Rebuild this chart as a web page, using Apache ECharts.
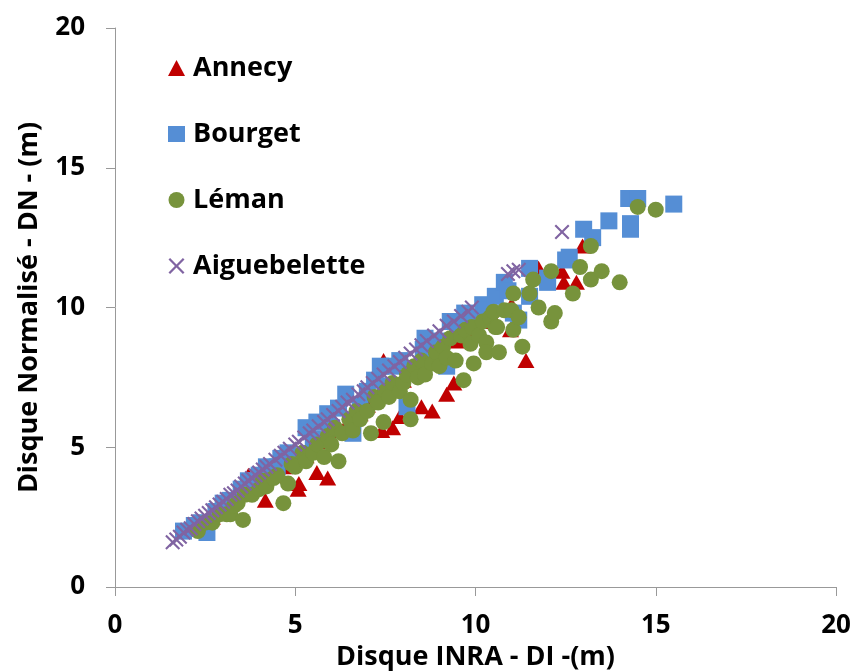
<!DOCTYPE html>
<html>
<head>
<meta charset="utf-8">
<script src="https://cdn.jsdelivr.net/npm/echarts@6/dist/echarts.min.js"></script>
<style>
  html, body { margin: 0; padding: 0; background: #fff; }
  #chart { width: 853px; height: 671px; }
</style>
</head>
<body>
<div id="chart"></div>
<script>
// tick values
let axisTicks = [0, 5, 10, 15, 20];

// [DI, DN] pairs
let annecy = [
  [2.3,2.2],[2.7,2.5],[3.0,2.8],[3.3,3.2],[3.6,3.4],[3.7,4.0],[3.9,3.6],[4.17,3.1],[4.4,4.0],[4.7,4.3],
  [5.08,3.5],[5.1,3.7],[5.3,4.7],[5.6,4.1],[5.9,3.9],[5.8,5.2],[6.2,5.6],[6.5,6.0],[6.8,6.2],[7.0,6.5],
  [7.4,5.6],[7.45,8.1],[7.5,7.0],[7.7,5.7],[7.9,6.1],[7.97,8.1],[8.0,7.4],[8.3,7.7],[8.5,6.45],[8.8,6.3],
  [8.7,8.0],[9.2,6.9],[9.4,7.3],[9.0,8.3],[9.5,8.8],[9.8,9.0],[10.2,9.5],[10.5,9.6],[10.97,9.2],[11.0,10.1],
  [11.4,8.1],[11.75,11.4],[12.0,11.0],[12.45,10.9],[12.8,10.9],[12.4,11.3],[12.97,12.2]
];
let bourget = [
  [1.9,2.0],[2.55,1.95],[2.2,2.2],[2.4,2.3],[2.8,2.7],[3.0,3.0],[3.2,3.1],[3.5,3.5],[3.7,3.8],[3.9,3.8],
  [4.0,4.0],[4.2,4.3],[4.5,4.3],[4.6,4.6],[4.8,4.8],[5.0,4.6],[5.3,5.7],[5.5,5.3],[5.6,5.9],[5.9,6.2],
  [6.0,5.7],[6.2,6.4],[6.4,6.9],[6.6,5.5],[6.8,6.5],[7.0,7.0],[7.2,7.4],[7.36,7.9],[7.5,7.2],[7.7,7.9],
  [7.9,8.1],[8.1,6.45],[8.3,7.8],[8.55,8.5],[8.6,8.9],[8.8,8.2],[9.2,7.9],[9.0,8.8],[9.3,9.5],[9.5,9.3],
  [9.7,9.8],[10.0,9.6],[10.2,10.1],[10.3,9.9],[10.55,10.4],[10.8,10.9],[10.9,10.6],[11.05,9.8],[11.2,9.55],[11.5,10.4],
  [11.5,11.4],[12.0,11.05],[12.0,10.9],[12.5,11.7],[12.6,11.8],[13.0,12.8],[13.25,12.5],[13.7,13.1],[14.25,13.9],[14.5,13.9],
  [14.3,13.0],[14.3,12.8],[15.5,13.7]
];
let leman = [
  [2.3,2.0],[2.5,2.3],[2.7,2.3],[2.9,2.6],[3.1,2.6],[3.2,2.6],[3.3,2.9],[3.55,2.4],[3.4,3.0],[3.6,3.3],
  [3.8,3.3],[4.0,3.5],[4.1,3.8],[4.2,3.6],[4.4,3.9],[4.67,3.0],[4.8,3.7],[4.5,4.0],[4.9,4.4],[5.0,4.3],
  [5.2,4.8],[5.3,4.5],[5.5,4.8],[5.6,5.1],[5.8,4.65],[5.9,5.4],[6.0,5.1],[6.1,5.7],[6.2,4.5],[6.3,5.5],
  [6.5,6.0],[6.6,5.6],[6.7,6.3],[6.8,6.0],[7.1,5.5],[7.0,6.3],[7.2,6.8],[7.3,6.6],[7.45,5.9],[7.5,7.0],
  [7.6,6.8],[7.7,7.3],[7.9,7.0],[8.2,6.0],[8.2,6.7],[8.0,7.3],[8.1,7.6],[8.3,7.9],[8.4,7.5],[8.5,8.1],
  [8.6,7.6],[8.8,8.0],[8.9,8.4],[9.0,7.9],[9.1,8.6],[9.2,8.2],[9.3,8.9],[9.45,8.1],[9.6,9.0],[9.67,7.4],
  [9.72,9.2],[9.86,8.7],[9.9,9.3],[9.95,8.0],[10.1,9.0],[10.2,9.5],[10.3,8.75],[10.3,8.4],[10.4,9.65],[10.55,9.3],
  [10.6,9.3],[10.65,8.4],[10.5,9.85],[10.8,9.9],[11.0,9.9],[11.05,9.2],[11.2,9.65],[11.05,10.5],[11.3,8.6],[11.5,10.5],
  [11.6,11.0],[11.75,10.0],[12.1,9.5],[12.2,9.8],[12.1,11.3],[12.7,10.5],[12.9,11.45],[13.2,11.0],[13.2,12.2],[13.5,11.3],
  [14.0,10.9],[14.5,13.6],[15.0,13.5]
];
let aiguebelette = [
  [1.6,1.6],[1.7,1.7],[1.8,1.8],[1.9,1.95],[2.0,2.05],[2.1,2.1],[2.2,2.25],[2.3,2.35],[2.4,2.45],[2.5,2.55],
  [2.6,2.65],[2.7,2.75],[2.8,2.85],[2.9,2.95],[3.0,3.05],[3.1,3.15],[3.2,3.3],[3.3,3.35],[3.4,3.45],[3.5,3.6],
  [3.6,3.7],[3.7,3.8],[3.8,3.9],[3.9,4.0],[4.0,4.1],[4.1,4.2],[4.2,4.3],[4.3,4.4],[4.45,4.55],[4.6,4.7],
  [4.7,4.8],[4.85,4.95],[5.0,5.1],[5.1,5.2],[5.25,5.35],[5.4,5.5],[5.5,5.6],[5.65,5.75],[5.8,5.9],[5.9,6.0],
  [6.05,6.15],[6.2,6.3],[6.3,6.45],[6.45,6.6],[6.6,6.7],[6.75,6.9],[6.9,7.0],[7.0,7.15],[7.15,7.3],[7.3,7.45],
  [7.45,7.6],[7.6,7.75],[7.75,7.9],[7.9,8.05],[8.05,8.2],[8.2,8.35],[8.35,8.5],[8.5,8.65],[8.65,8.8],[8.85,9.0],
  [9.0,9.15],[9.2,9.35],[9.4,9.5],[9.6,9.7],[9.8,9.85],[9.9,10.0],[10.9,11.2],[11.05,11.3],[11.2,11.35],[12.4,12.7]
];

let font = "'Open Sans', 'Liberation Sans', sans-serif";
let crossPath = 'path://M0,1L1,0L5,4L9,0L10,1L6,5L10,9L9,10L5,6L1,10L0,9L4,5Z';

function axisStyle(name, nameGap, labelMargin){
	return {
	    type: 'value',
	    min: axisTicks[0],
	    max: axisTicks[axisTicks.length - 1],
	    interval: axisTicks[1] - axisTicks[0],
	    name: name,
	    nameLocation: 'middle',
	    nameGap: nameGap,
	    nameTextStyle: {
	        fontFamily: font,
	        fontWeight: 'bold',
	        fontSize: 27,
	        color: '#000'
	    },
	    axisLine: { show: true, lineStyle: { color: '#999', width: 1 } },
	    axisTick: { show: true, inside: false, length: 9, lineStyle: { color: '#999' } },
	    splitLine: { show: false },
	    axisLabel: {
	        margin: labelMargin,
	        fontFamily: font,
	        fontWeight: 'bold',
	        fontSize: 26,
	        color: '#000'
	    }
	};
}

function initChart(){
	let myChart = echarts.init(document.getElementById('chart'));

	let option = {
	    animation: false,
	    backgroundColor: '#fff',
	    grid: { left: 115, right: 17, top: 28, bottom: 84, containLabel: false, outerBoundsMode: 'none' },
	    legend: {
	        orient: 'vertical',
	        left: 163,
	        top: 48,
	        itemWidth: 17,
	        itemHeight: 16,
	        itemGap: 36,
	        textStyle: {
	            fontFamily: font,
	            fontWeight: 'bold',
	            fontSize: 27,
	            lineHeight: 30,
	            color: '#000',
	            padding: [0, 0, 0, 3]
	        },
	        data: ['Annecy', 'Bourget', 'Léman', 'Aiguebelette']
	    },
	    xAxis: axisStyle('Disque INRA - DI -(m)', 54, 26),
	    yAxis: axisStyle('Disque Normalisé - DN - (m)', 72, 30),
	    series: [{
	        name: 'Annecy',
	        type: 'scatter',
	        symbol: 'triangle',
	        symbolSize: [17, 15],
	        itemStyle: { color: '#c00000', opacity: 1 },
	        data: annecy
	    }, {
	        name: 'Bourget',
	        type: 'scatter',
	        symbol: 'rect',
	        symbolSize: 17,
	        itemStyle: { color: '#558ed5', opacity: 1 },
	        data: bourget
	    }, {
	        name: 'Léman',
	        type: 'scatter',
	        symbol: 'circle',
	        symbolSize: 16,
	        itemStyle: { color: '#77933c', opacity: 1 },
	        data: leman
	    }, {
	        name: 'Aiguebelette',
	        type: 'scatter',
	        symbol: crossPath,
	        symbolSize: 15,
	        itemStyle: { color: '#8064a2', opacity: 1 },
	        data: aiguebelette
	    }]
	};
	myChart.setOption(option);
	return myChart
}
initChart();
</script>
</body>
</html>
